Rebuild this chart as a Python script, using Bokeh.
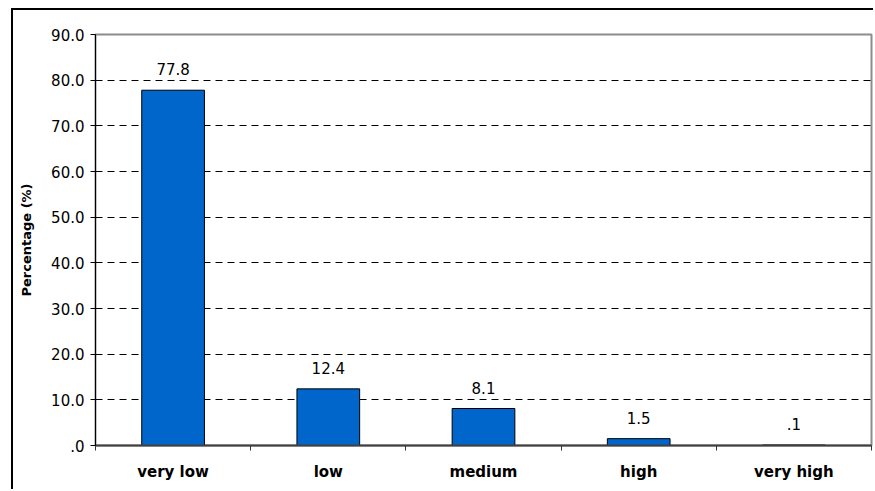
from bokeh.plotting import figure
from bokeh.models import FixedTicker, ColumnDataSource, Range1d
from bokeh.core.properties import value
from bokeh.embed import file_html
from bokeh.resources import INLINE

# Share of records in each risk class (%)
categories = ["very low", "low", "medium", "high", "very high"]
percentages = [77.8, 12.4, 8.1, 1.5, 0.1]
value_labels = ["77.8", "12.4", "8.1", "1.5", ".1"]
y_ticks = [0, 10, 20, 30, 40, 50, 60, 70, 80, 90]
y_tick_labels = [".0", "10.0", "20.0", "30.0", "40.0", "50.0", "60.0", "70.0", "80.0", "90.0"]

centers = [i + 0.5 for i in range(len(categories))]
source = ColumnDataSource(dict(x=centers, y=percentages, label=value_labels))

FONT = "DejaVu Sans"

p = figure(
    width=862, height=481,
    x_range=Range1d(0, len(categories)), y_range=Range1d(0, 90),
    output_backend="svg", toolbar_location=None,
    min_border_left=82, min_border_right=4, min_border_top=24, min_border_bottom=46,
)
# chart border on the left and top edges of the page
p.styles = {
    "margin-left": "11px", "margin-top": "8px",
    "border-left": "2px solid #000000", "border-top": "2px solid #000000",
}

p.background_fill_color = "white"
p.border_fill_color = "white"
p.outline_line_color = "#8c8c8c"
p.outline_line_width = 2

p.vbar(x="x", top="y", width=0.404, source=source,
       fill_color="#0066cc", line_color="#000000", line_width=1)

p.text(x="x", y="y", text="label", source=source,
       text_align="center", text_baseline="alphabetic", y_offset=-21,
       text_font=value(FONT), text_font_size="15px", text_color="#000000")

# y axis
p.yaxis.ticker = FixedTicker(ticks=y_ticks)
p.yaxis.major_label_overrides = dict(zip(y_ticks, y_tick_labels))
p.yaxis.axis_label = "Percentage (%)"
p.yaxis.axis_label_text_font = FONT
p.yaxis.axis_label_text_font_style = "bold"
p.yaxis.axis_label_text_font_size = "13px"
p.yaxis.axis_label_text_color = "#000000"
p.yaxis.axis_label_standoff = 14
p.yaxis.major_label_text_font = FONT
p.yaxis.major_label_text_font_size = "15px"
p.yaxis.major_label_text_color = "#000000"
p.yaxis.major_label_standoff = 6
p.yaxis.major_tick_out = 5
p.yaxis.major_tick_in = 0
p.yaxis.minor_tick_out = 0
p.yaxis.minor_tick_in = 0
p.yaxis.axis_line_color = "#000000"
p.yaxis.major_tick_line_color = "#000000"

# x axis: labels at category centres, tick marks at category boundaries
p.xaxis.ticker = FixedTicker(ticks=centers, minor_ticks=list(range(len(categories) + 1)))
p.xaxis.major_label_overrides = dict(zip(centers, categories))
p.xaxis.major_label_text_font = FONT
p.xaxis.major_label_text_font_style = "bold"
p.xaxis.major_label_text_font_size = "15px"
p.xaxis.major_label_text_color = "#000000"
p.xaxis.major_label_standoff = 12
p.xaxis.major_tick_out = 0
p.xaxis.major_tick_in = 0
p.xaxis.minor_tick_out = 5
p.xaxis.minor_tick_in = 0
p.xaxis.minor_tick_line_color = "#333333"
p.xaxis.axis_line_color = "#404040"
p.xaxis.axis_line_width = 2

p.xgrid.grid_line_color = None
p.ygrid.grid_line_color = "#000000"
p.ygrid.grid_line_dash = "7 5"
p.ygrid.grid_line_width = 1

open("out.html", "w").write(file_html(p, INLINE))
